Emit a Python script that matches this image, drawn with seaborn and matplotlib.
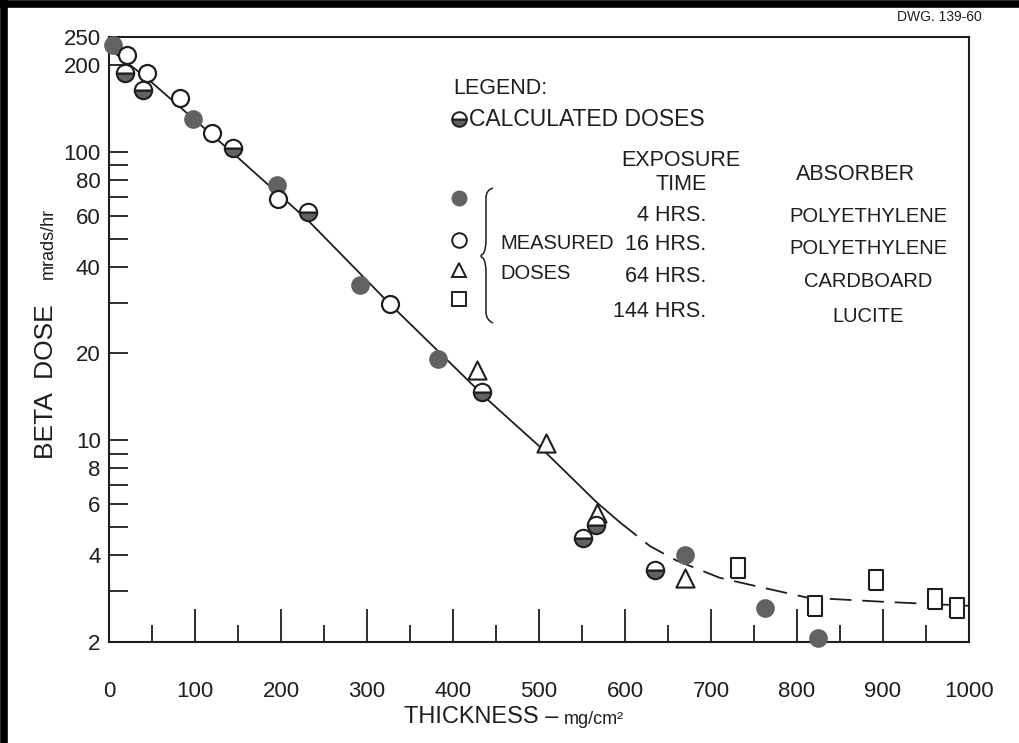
import matplotlib
matplotlib.use("Agg")
import matplotlib.pyplot as plt
import seaborn as sns
import numpy as np
import pandas as pd
from matplotlib.path import Path
from matplotlib.patches import PathPatch
from matplotlib.lines import Line2D
from matplotlib.ticker import FixedLocator, NullFormatter

# ---------------- data ----------------
calc_x = [19, 40, 144, 231, 434, 551, 566, 635]
calc_y = [187, 164, 103, 62, 14.7, 4.6, 5.1, 3.54]

m4_x = [5, 98, 195, 292, 383, 670, 763, 824]
m4_y = [235, 130, 77, 34.5, 19.1, 4.0, 2.63, 2.07]

m16_x = [21, 44, 83, 120, 197, 327]
m16_y = [217, 187, 154, 116, 68.7, 29.6]

m64_x = [428, 508, 567, 670]
m64_y = [17.5, 9.8, 5.6, 3.32]

m144_x = [731, 821, 892, 960, 986]
m144_y = [3.62, 2.67, 3.27, 2.81, 2.63]

fit_solid_x = [0, 44, 144, 231, 327, 443, 501, 567, 594]
fit_solid_y = [228, 180, 99, 58, 29.6, 13.6, 9.5, 6.1, 5.2]

fit_dash_x = [594, 629, 660, 710, 749, 812, 897, 1000]
fit_dash_y = [5.2, 4.3, 3.83, 3.34, 3.14, 2.85, 2.76, 2.67]

x_ticks = [0, 100, 200, 300, 400, 500, 600, 700, 800, 900, 1000]
x_minor = [50, 150, 250, 350, 450, 550, 650, 750, 850, 950]
y_tick_labels = [2, 4, 6, 8, 10, 20, 40, 60, 80, 100, 200, 250]
y_minor = [3, 5, 7, 9, 30, 50, 70, 90]

legend_rows = [("4 HRS.", "POLYETHYLENE"), ("16 HRS.", "POLYETHYLENE"),
               ("64 HRS.", "CARDBOARD"), ("144 HRS.", "LUCITE")]

# ---------------- style ----------------
sns.set_style("white")
FONT = ["Liberation Sans", "DejaVu Sans"]
plt.rcParams["font.family"] = FONT
INK = "#1e1e1e"
GREY = "#626262"

W, H = 1020, 743
fig = plt.figure(figsize=(W / 100, H / 100), dpi=100)
fig.patch.set_facecolor("white")

def fx(px):
    return px / W

def fy(py):
    return 1 - py / H

ax = fig.add_axes([fx(109), fy(642), fx(969) - fx(109), fy(37) - fy(642)])
ax.set_facecolor("white")
ax.set_yscale("log")
ax.set_xlim(0, 1000)
ax.set_ylim(2, 250)

# fitted curve
sns.lineplot(x=fit_solid_x, y=fit_solid_y, ax=ax, color=INK, lw=1.3,
             estimator=None, sort=False)
sns.lineplot(x=fit_dash_x, y=fit_dash_y, ax=ax, color=INK, lw=1.3,
             estimator=None, sort=False, dashes=False, linestyle=(0, (12, 6)))

# measured points
sns.scatterplot(x=m4_x, y=m4_y, ax=ax, marker="o", s=150, color=GREY,
                edgecolor=GREY, linewidth=1.2, zorder=4, clip_on=False)
sns.scatterplot(x=m16_x, y=m16_y, ax=ax, marker="o", s=150, facecolor="white",
                edgecolor=INK, linewidth=1.6, zorder=4)
sns.scatterplot(x=m64_x, y=m64_y, ax=ax, marker="^", s=170, facecolor="white",
                edgecolor=INK, linewidth=1.5, zorder=4)
rect = [(-0.68, -1), (0.68, -1), (0.68, 1), (-0.68, 1), (-0.68, -1)]
sns.scatterplot(x=m144_x, y=m144_y, ax=ax, marker=rect, s=190, facecolor="white",
                edgecolor=INK, linewidth=1.5, zorder=4)
# calculated (half-filled) points
sns.lineplot(x=calc_x, y=calc_y, ax=ax, estimator=None, sort=False, linestyle="",
             marker="o", markersize=12.5, fillstyle="bottom",
             markerfacecolor=GREY, markerfacecoloralt="white",
             markeredgecolor=INK, markeredgewidth=1.5, zorder=5)

# ---------------- axes styling ----------------
for sp in ax.spines.values():
    sp.set_visible(True)
    sp.set_color(INK)
    sp.set_linewidth(1.5)

ax.xaxis.set_major_locator(FixedLocator(x_ticks))
ax.xaxis.set_minor_locator(FixedLocator(x_minor))
ax.xaxis.set_minor_formatter(NullFormatter())
ax.set_xticklabels([str(v) for v in x_ticks])
ax.tick_params(axis="x", which="major", direction="in", length=24, width=1.3,
               color=INK, labelsize=16, pad=28, labelcolor=INK,
               bottom=True, top=False)
ax.tick_params(axis="x", which="minor", direction="in", length=12, width=1.3,
               color=INK, bottom=True, top=False)
ax.yaxis.set_major_locator(FixedLocator(y_tick_labels))
ax.yaxis.set_minor_locator(FixedLocator(y_minor))
ax.yaxis.set_minor_formatter(NullFormatter())
ax.set_yticklabels([str(v) for v in y_tick_labels])
ax.tick_params(axis="y", which="both", direction="in", length=14, width=1.3,
               color=INK, labelsize=16, pad=6, labelcolor=INK,
               left=True, right=False)
ax.set_xlabel("")
ax.set_ylabel("")

# axis titles
fig.text(fx(559), fy(717), "THICKNESS \u2013", ha="right", va="center",
         fontsize=17, color=INK)
fig.text(fx(564), fy(719), "mg/cm\u00b2", ha="left", va="center",
         fontsize=13, color=INK)
fig.text(fx(46), fy(382), "BETA  DOSE", ha="center", va="center",
         rotation=90, fontsize=19, color=INK)
fig.text(fx(48), fy(243), "mrads/hr", ha="center", va="center",
         rotation=90, fontsize=13, color=INK)

# drawing number
fig.text(fx(939), fy(17), "DWG. 139-60", ha="center", va="center",
         fontsize=10, color=INK)

# ---------------- in-plot legend ----------------
ts = 15.5
fig.text(fx(453), fy(89), "LEGEND:", ha="left", va="center", fontsize=ts, color=INK)
fig.add_artist(Line2D([fx(459)], [fy(119)], marker="o", markersize=10.5,
                      fillstyle="bottom", markerfacecolor=GREY,
                      markerfacecoloralt="white", markeredgecolor=INK,
                      markeredgewidth=1.4, linestyle="", transform=fig.transFigure))
fig.text(fx(469), fy(120), "CALCULATED DOSES", ha="left", va="center",
         fontsize=16.5, color=INK)
fig.text(fx(681), fy(161), "EXPOSURE", ha="center", va="center", fontsize=ts, color=INK)
fig.text(fx(681), fy(184), "TIME", ha="center", va="center", fontsize=ts, color=INK)
fig.text(fx(856), fy(175), "ABSORBER", ha="center", va="center", fontsize=ts, color=INK)

mk_y = [198, 240, 270, 299]
fig.add_artist(Line2D([fx(459)], [fy(mk_y[0])], marker="o", markersize=10.5,
                      color=GREY, linestyle="", transform=fig.transFigure))
fig.add_artist(Line2D([fx(459)], [fy(mk_y[1])], marker="o", markersize=10.5,
                      markerfacecolor="white", markeredgecolor=INK, markeredgewidth=1.4,
                      linestyle="", transform=fig.transFigure))
fig.add_artist(Line2D([fx(459)], [fy(mk_y[2])], marker="^", markersize=10.5,
                      markerfacecolor="white", markeredgecolor=INK, markeredgewidth=1.4,
                      linestyle="", transform=fig.transFigure))
fig.add_artist(Line2D([fx(459)], [fy(mk_y[3])], marker="s", markersize=9.5,
                      markerfacecolor="white", markeredgecolor=INK, markeredgewidth=1.4,
                      linestyle="", transform=fig.transFigure))

row_y = [215, 245, 276, 312]
abs_y = [217, 248, 282, 316]
for (hrs, absb), ry, ay in zip(legend_rows, row_y, abs_y):
    fig.text(fx(706), fy(ry), hrs, ha="right", va="center", fontsize=ts, color=INK)
    fig.text(fx(868), fy(ay), absb, ha="center", va="center", fontsize=14.5, color=INK)
fig.text(fx(500), fy(244), "MEASURED", ha="left", va="center", fontsize=14.5, color=INK)
fig.text(fx(500), fy(273), "DOSES", ha="left", va="center", fontsize=14.5, color=INK)

# brace
bx = 486
verts = [(bx + 7, 188), (bx, 190), (bx, 198), (bx, 240),
         (bx, 250), (bx - 3, 254), (bx - 7, 256),
         (bx - 3, 258), (bx, 262), (bx, 272),
         (bx, 312), (bx, 320), (bx + 7, 323)]
codes = [Path.MOVETO, Path.CURVE3, Path.CURVE3, Path.LINETO,
         Path.CURVE3, Path.CURVE3, Path.CURVE3,
         Path.CURVE3, Path.CURVE3, Path.CURVE3,
         Path.LINETO, Path.CURVE3, Path.CURVE3]
verts_f = [(fx(a), fy(b)) for a, b in verts]
fig.add_artist(PathPatch(Path(verts_f, codes), transform=fig.transFigure,
                         fill=False, edgecolor=INK, linewidth=1.1))

# scan frame (top and left black edges)
fig.add_artist(Line2D([0, 1], [fy(4), fy(4)], color="black", lw=5.5,
                      transform=fig.transFigure))
fig.add_artist(Line2D([fx(4), fx(4)], [0, 1], color="black", lw=5.5,
                      transform=fig.transFigure))

fig.savefig("out.png", dpi=100, facecolor="white")
